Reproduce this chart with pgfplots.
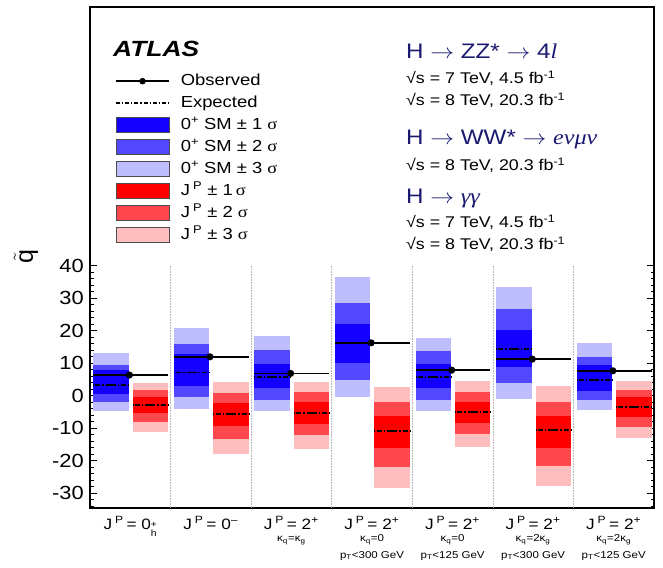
\documentclass[border=0pt]{standalone}
\usepackage{pgfplots}
\pgfplotsset{compat=1.18}
\usepackage{pgfplotstable}
\usepackage{fontspec}
\usepackage{graphicx}
\setmainfont{Liberation Sans}
\newfontfamily\serif{Liberation Serif}
\newcommand{\hs}[1]{\scalebox{1.15}[1]{#1}}
\newcommand{\fs}[1]{\fontsize{#1}{#1}\selectfont}
\definecolor{b1}{RGB}{20,0,255}
\definecolor{b2}{RGB}{82,72,255}
\definecolor{b3}{RGB}{190,190,255}
\definecolor{r1}{RGB}{255,0,0}
\definecolor{r2}{RGB}{255,72,78}
\definecolor{r3}{RGB}{255,190,190}
\definecolor{navy}{RGB}{25,25,112}

\pgfplotstableread{
x lo3 hi3 lo2 hi2 lo1 hi1 exp obs
0 -4.7 13.2 -2.0 9.6 0.5 8.1 3.3 6.4
1 -4.2 21.0 -0.5 15.9 3.1 13.0 7.2 12.0
2 -4.7 18.4 -1.3 14.0 2.3 9.8 5.9 6.9
3 -0.3 36.4 5.0 28.7 10.0 22.1 16.1 16.3
4 -4.7 17.7 -1.3 13.7 2.3 9.7 5.9 7.9
5 -1.1 33.5 3.8 26.7 8.9 20.2 14.4 11.3
6 -4.5 16.1 -1.4 11.8 1.6 9.4 4.8 7.7
}\sm

\pgfplotstableread{
x lo3 hi3 lo2 hi2 lo1 hi1 exp
0 -11.1 4.1 -8.0 1.8 -5.2 -0.3 -2.9
1 -17.9 4.2 -13.4 0.9 -9.2 -2.1 -5.7
2 -16.2 4.4 -12.2 1.1 -8.7 -1.9 -5.2
3 -28.2 2.6 -21.8 -1.8 -16.0 -6.2 -10.8
4 -15.7 4.6 -11.8 1.2 -8.5 -1.8 -4.9
5 -27.8 3.0 -21.5 -1.8 -16.0 -6.2 -10.6
6 -12.9 4.6 -9.5 1.8 -6.5 -0.5 -3.4
}\alt

\pgfplotsset{
  nomark/.style={only marks, mark=*, mark size=0pt, mark options={draw=none, fill=none}},
  band/.style={forget plot, nomark, error bars/.cd, y dir=plus, y explicit, error mark=none, error bar style={draw=#1, line width=35.45pt, solid}},
  expline/.style={forget plot, nomark, error bars/.cd, x dir=both, x fixed=0.22, error mark=none, error bar style={draw=black, line width=1.8pt, dash pattern=on 5pt off 2pt on 1.5pt off 2pt}},
  obsline/.style={forget plot, nomark, error bars/.cd, x dir=both, x explicit, error mark=none, error bar style={draw=black, line width=1.6pt, solid}},
  legbox/.style={legend image code/.code={\draw[##1, draw=black!70, line width=0.6pt] (0pt,-7.5pt) rectangle (53pt,7.5pt);}},
  legline/.style={legend image code/.code={\draw[##1] (0pt,0pt) -- (53pt,0pt);}},
  legobs/.style={legend image code/.code={\draw[mark repeat=2, mark phase=2, ##1] plot coordinates {(0pt,0pt) (26.5pt,0pt) (53pt,0pt)};}},
}
\newcommand{\JP}[1]{\hs{J\,\textsuperscript{P}\,= #1}}

\begin{document}
\begin{tikzpicture}
\useasboundingbox (-90pt,-59pt) rectangle (573pt,508pt);
\begin{axis}[
  scale only axis, width=564pt, height=501pt,
  xmin=0, xmax=7, ymin=-34.5, ymax=119.6,
  axis line style={black, line width=1.2pt},
  xtick={0.5,1.5,2.5,3.5,4.5,5.5,6.5},
  xticklabels={
    {\JP{0\raisebox{-3.8pt}{\fs{9}\begin{tabular}{@{}l@{}}+\\[-0.5pt]h\end{tabular}}}},
    {\JP{0\textsuperscript{\textendash}}},
    {\JP{2\textsuperscript{+}}},
    {\JP{2\textsuperscript{+}}},
    {\JP{2\textsuperscript{+}}},
    {\JP{2\textsuperscript{+}}},
    {\JP{2\textsuperscript{+}}}},
  xtick style={draw=none},
  xticklabel style={anchor=base, yshift=-21pt, inner sep=0pt, font=\fs{15}},
  ytick={-30,-20,...,40},
  minor ytick={-34,-32,...,40},
  ytick pos=both, yticklabel pos=left,
  tick align=inside,
  major tick length=7pt, minor tick length=3.5pt,
  ytick style={black, line width=0.8pt},
  minor tick style={black, line width=0.7pt},
  yticklabel style={anchor=east, inner sep=0pt, xshift=-6pt, font=\fs{19}},
  yticklabel={\hs{\pgfmathprintnumber[assume math mode=true]{\tick}}},
  legend style={at={(rel axis cs:0.0443,0.8693)}, anchor=north west, draw=none, fill=none, inner sep=0pt, row sep=5pt, column sep=11pt, font=\fs{16}, cells={anchor=west}, nodes={inner sep=0pt, text height=13pt, text depth=4pt}},
]
% category separators
\addplot[forget plot, nomark, error bars/.cd, y dir=plus, y fixed=74.5, error mark=none, error bar style={draw=gray!60, line width=0.6pt, densely dotted}] coordinates {(1,-34.5)(2,-34.5)(3,-34.5)(4,-34.5)(5,-34.5)(6,-34.5)};
% SM bands
\addplot[band=b3] table[x expr=\thisrow{x}+0.26, y=lo3, y error expr=\thisrow{hi3}-\thisrow{lo3}]{\sm};
\addplot[band=b2] table[x expr=\thisrow{x}+0.26, y=lo2, y error expr=\thisrow{hi2}-\thisrow{lo2}]{\sm};
\addplot[band=b1] table[x expr=\thisrow{x}+0.26, y=lo1, y error expr=\thisrow{hi1}-\thisrow{lo1}]{\sm};
% alternative bands
\addplot[band=r3] table[x expr=\thisrow{x}+0.75, y=lo3, y error expr=\thisrow{hi3}-\thisrow{lo3}]{\alt};
\addplot[band=r2] table[x expr=\thisrow{x}+0.75, y=lo2, y error expr=\thisrow{hi2}-\thisrow{lo2}]{\alt};
\addplot[band=r1] table[x expr=\thisrow{x}+0.75, y=lo1, y error expr=\thisrow{hi1}-\thisrow{lo1}]{\alt};
% expected
\addplot[expline] table[x expr=\thisrow{x}+0.26, y=exp]{\sm};
\addplot[expline] table[x expr=\thisrow{x}+0.75, y=exp]{\alt};
% observed
\addplot[obsline] table[x expr=\thisrow{x}+0.49, y=obs, x error plus expr=0.48, x error minus expr=0.45]{\sm};
\addplot[forget plot, only marks, mark=*, mark size=3.3pt, black] table[x expr=\thisrow{x}+0.49, y=obs]{\sm};
% legend
\addlegendimage{legobs, black, line width=1.6pt, mark=*, mark size=2.4pt}
\addlegendentry{\hs{Observed}}
\addlegendimage{legline, black, line width=1.4pt, dash pattern=on 4pt off 2pt on 1.2pt off 2pt}
\addlegendentry{\hs{Expected}}
\addlegendimage{legbox, fill=b1}
\addlegendentry{\hs{0\textsuperscript{+} SM ± 1 {\serif σ}}}
\addlegendimage{legbox, fill=b2}
\addlegendentry{\hs{0\textsuperscript{+} SM ± 2 {\serif σ}}}
\addlegendimage{legbox, fill=b3}
\addlegendentry{\hs{0\textsuperscript{+} SM ± 3 {\serif σ}}}
\addlegendimage{legbox, fill=r1}
\addlegendentry{\hs{J\,\textsuperscript{P} ± 1\,{\serif σ}}}
\addlegendimage{legbox, fill=r2}
\addlegendentry{\hs{J\,\textsuperscript{P} ± 2 {\serif σ}}}
\addlegendimage{legbox, fill=r3}
\addlegendentry{\hs{J\,\textsuperscript{P} ± 3 {\serif σ}}}
\end{axis}
% y label
\node[rotate=90, font=\fs{25}] at (-64pt,251pt) {$\tilde{\mbox{q}}$};
% ATLAS
\node[anchor=base west, inner sep=0pt, font=\fs{22}\bfseries\itshape] at (23pt,451pt) {\scalebox{1.2}[1]{ATLAS}};
% info text
\begin{scope}[every node/.style={anchor=base west, inner sep=0pt}]
\node[font=\fs{21}, text=navy] at (316pt,449pt) {\hs{H $\rightarrow$ ZZ* $\rightarrow$ 4{\serif\itshape l}}};
\node[font=\fs{15.5}] at (316pt,424.6pt) {\hs{√s = 7 TeV, 4.5 fb\textsuperscript{-1}}};
\node[font=\fs{15.5}] at (316pt,402.6pt) {\hs{√s = 8 TeV, 20.3 fb\textsuperscript{-1}}};
\node[font=\fs{21}, text=navy] at (316pt,363pt) {\hs{H $\rightarrow$ WW* $\rightarrow$ {\serif\itshape eνμν}}};
\node[font=\fs{15.5}] at (316pt,337.6pt) {\hs{√s = 8 TeV, 20.3 fb\textsuperscript{-1}}};
\node[font=\fs{21}, text=navy] at (316pt,304pt) {\hs{H $\rightarrow$ {\serif\itshape γγ}}};
\node[font=\fs{15.5}] at (316pt,280.6pt) {\hs{√s = 7 TeV, 4.5 fb\textsuperscript{-1}}};
\node[font=\fs{15.5}] at (316pt,258.6pt) {\hs{√s = 8 TeV, 20.3 fb\textsuperscript{-1}}};
\end{scope}
% sub labels
\begin{scope}[every node/.style={anchor=base, inner sep=0pt, font=\fs{10}}]
\node at (201.4pt,-33.5pt) {\hs{κ\textsubscript{q}=κ\textsubscript{g}}};
\node at (282pt,-33.5pt) {\hs{κ\textsubscript{q}=0}};
\node at (282pt,-50pt) {\hs{p\textsubscript{T}<300 GeV}};
\node at (362.6pt,-33.5pt) {\hs{κ\textsubscript{q}=0}};
\node at (362.6pt,-50pt) {\hs{p\textsubscript{T}<125 GeV}};
\node at (443.1pt,-33.5pt) {\hs{κ\textsubscript{q}=2κ\textsubscript{g}}};
\node at (443.1pt,-50pt) {\hs{p\textsubscript{T}<300 GeV}};
\node at (523.7pt,-33.5pt) {\hs{κ\textsubscript{q}=2κ\textsubscript{g}}};
\node at (523.7pt,-50pt) {\hs{p\textsubscript{T}<125 GeV}};
\end{scope}
\end{tikzpicture}
\end{document}
